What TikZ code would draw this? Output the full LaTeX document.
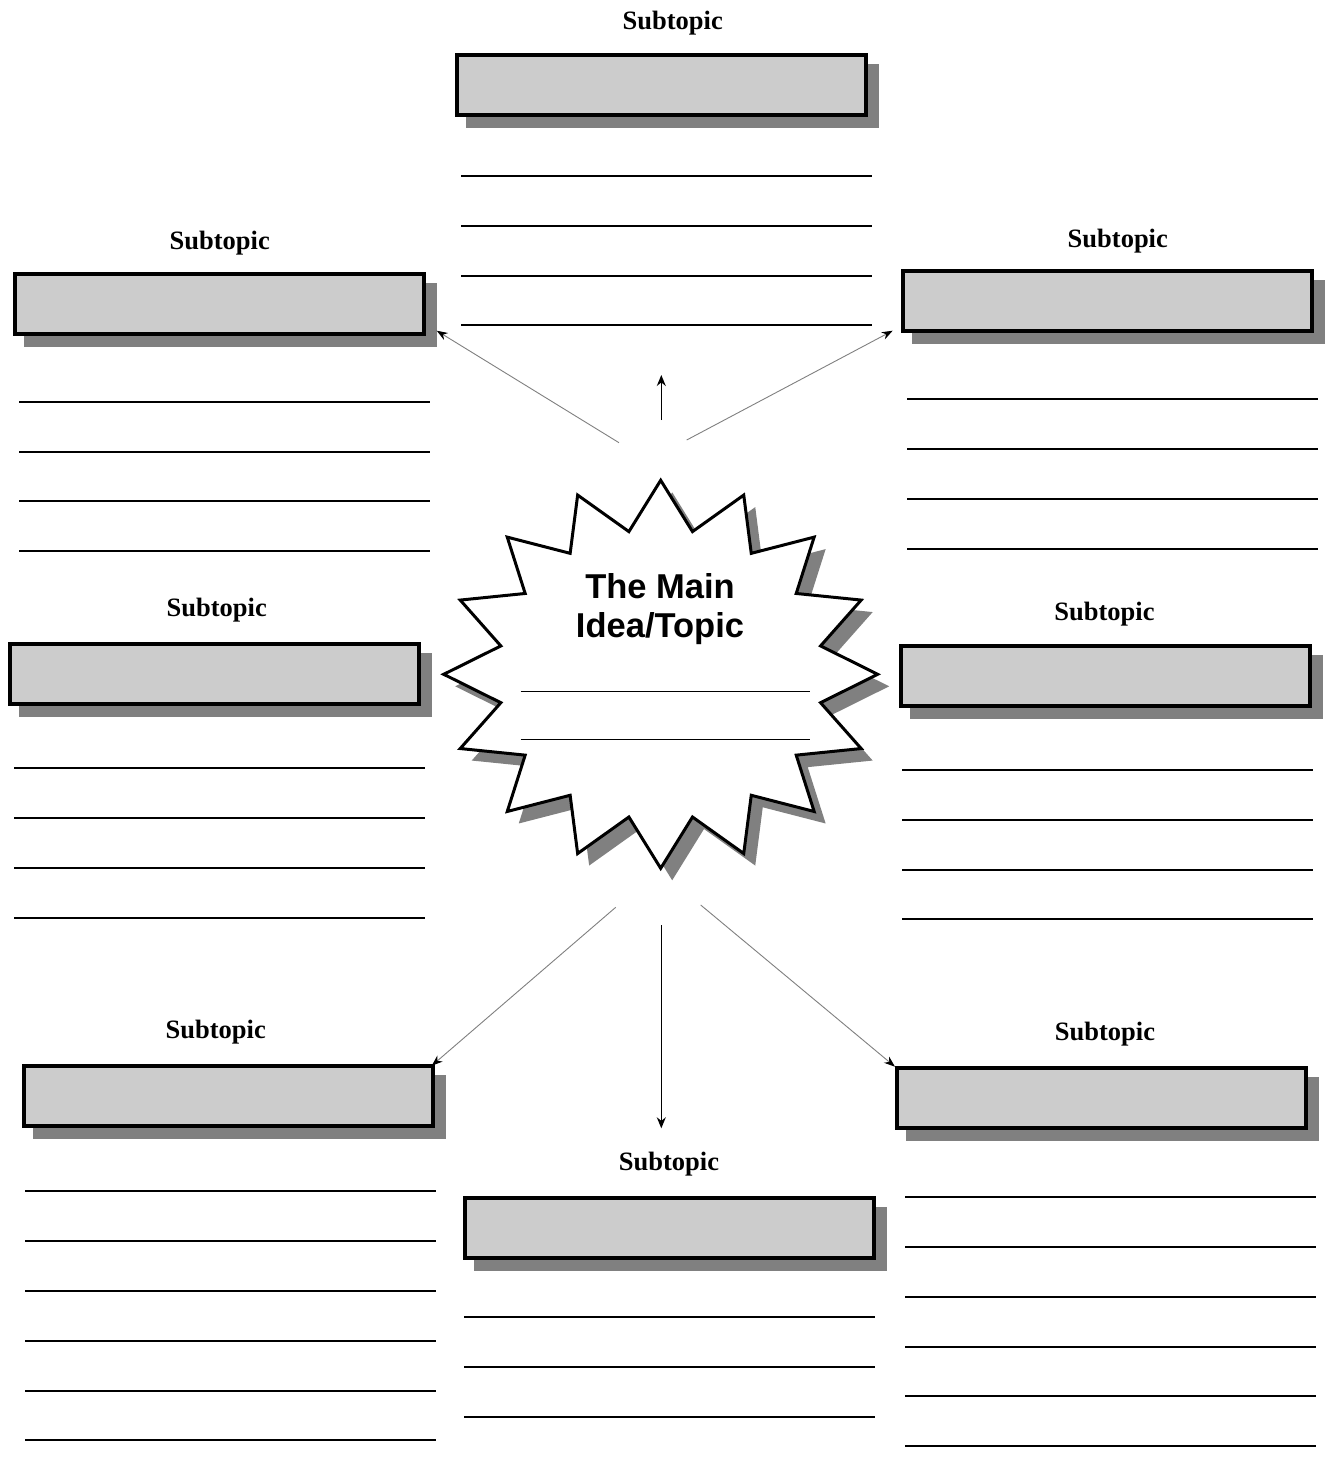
\documentclass[tikz,border=0pt]{standalone}
\usepackage{fontspec}
\setmainfont{Liberation Serif}
\newfontfamily\titlefont{Liberation Sans}
\usetikzlibrary{arrows.meta,backgrounds}
\definecolor{boxfill}{HTML}{CCCCCC}
\definecolor{shadowc}{HTML}{808080}
\tikzset{
  subbox/.style={draw=black, line width=4pt, fill=boxfill, minimum width=409pt, minimum height=60pt, inner sep=0pt},
  sublabel/.style={anchor=base, inner sep=0pt, font=\fontsize{26.5}{31}\selectfont\bfseries},
  titletext/.style={anchor=base, inner sep=0pt, font=\titlefont\fontsize{34.5}{40}\selectfont\bfseries},
  wline/.style={line width=2pt, black},
  thinline/.style={line width=0.9pt, black},
  diagarrow/.style={draw=shadowc, line width=0.9pt, -{Stealth[length=11pt,width=8pt,black]}},
  vertarrow/.style={draw=black, line width=1.3pt, -{Stealth[length=11pt,width=9pt,black]}},
  boxshadow/.style={fill=shadowc}
}
\newcommand{\shadowfor}[1]{%
  \begin{scope}[on background layer]
    \fill[boxshadow] ([shift={(11,11)}]#1.north west) rectangle ([shift={(11,11)}]#1.south east);
  \end{scope}}
\begin{document}
\begin{tikzpicture}[x=1pt,y=-1pt]
\begin{scope}[on background layer]
\fill[white] (0,0) rectangle (1327,1465);
\end{scope}
\useasboundingbox (0,0) rectangle (1327,1465);

% ---- boxes ----
\node[subbox] (b1) at (661.3,85) {};
\node[subbox] (b2) at (219.7,303.5) {};
\node[subbox] (b3) at (1107.3,301.3) {};
\node[subbox] (b4) at (214.2,673.7) {};
\node[subbox] (b5) at (1105.2,675.5) {};
\node[subbox] (b6) at (228.5,1096.2) {};
\node[subbox] (b7) at (1101.8,1098.3) {};
\node[subbox] (b8) at (669.3,1227.8) {};
\foreach \b in {b1,b2,b3,b4,b5,b6,b7,b8} {\shadowfor{\b}}

% ---- labels ----
\node[sublabel] (l1) at (672.7,29) {Subtopic};
\node[sublabel] (l2) at (219.7,249) {Subtopic};
\node[sublabel] (l3) at (1117.8,247) {Subtopic};
\node[sublabel] (l4) at (216.7,616) {Subtopic};
\node[sublabel] (l5) at (1104.5,620) {Subtopic};
\node[sublabel] (l6) at (215.7,1038) {Subtopic};
\node[sublabel] (l7) at (1105,1040) {Subtopic};
\node[sublabel] (l8) at (669,1170) {Subtopic};

% ---- writing lines ----
\foreach \y in {176,226,276,325} \draw[wline] (461,\y) -- (872,\y);
\foreach \y in {402,452,501,551} \draw[wline] (19,\y) -- (430,\y);
\foreach \y in {399,449,499,549} \draw[wline] (907,\y) -- (1318,\y);
\foreach \y in {768,818,868,918} \draw[wline] (14,\y) -- (425,\y);
\foreach \y in {770,820,870,919} \draw[wline] (902,\y) -- (1313,\y);
\foreach \y in {1191,1241,1291,1341,1391,1440} \draw[wline] (25,\y) -- (436,\y);
\foreach \y in {1317,1367,1417} \draw[wline] (464,\y) -- (875,\y);
\foreach \y in {1197,1247,1297,1347,1396,1446} \draw[wline] (905,\y) -- (1316,\y);

% ---- star ----
\coordinate (c) at (660.7,674.3);
\begin{scope}[shift={(672.2,686.3)}]
\fill[shadowc] (90:217 and 194) \foreach \i in {0,...,15} { -- ({90+22.5*\i+11.25}:163 and 145.5) -- ({90+22.5*(\i+1)}:217 and 194) } -- cycle;
\end{scope}
\begin{scope}[shift={(c)}]
\draw[fill=white, line width=3pt, line join=miter] (90:217 and 194) \foreach \i in {0,...,15} { -- ({90+22.5*\i+11.25}:163 and 145.5) -- ({90+22.5*(\i+1)}:217 and 194) } -- cycle;
\end{scope}
\node[titletext] (t1) at (660,598) {The Main};
\node[titletext] (t2) at (660,637) {Idea/Topic};
\draw[thinline] (520.7,691) -- (810,691);
\draw[thinline] (520.7,739) -- (810,739);

% ---- arrows ----
\coordinate (s1) at (619,442.7);   \coordinate (e1) at (436.7,330.7);
\coordinate (s2) at (661.3,420);   \coordinate (e2) at (661.3,375);
\coordinate (s3) at (686.7,440);   \coordinate (e3) at (892.7,330.7);
\coordinate (s4) at (615.7,907.3); \coordinate (e4) at (431.7,1065.7);
\coordinate (s5) at (661.3,925);   \coordinate (e5) at (661.3,1128.3);
\coordinate (s6) at (700.7,905);   \coordinate (e6) at (895,1066.7);
\draw[diagarrow] (s1) -- (e1);
\draw[vertarrow] (s2) -- (e2);
\draw[diagarrow] (s3) -- (e3);
\draw[diagarrow] (s4) -- (e4);
\draw[vertarrow] (s5) -- (e5);
\draw[diagarrow] (s6) -- (e6);
\end{tikzpicture}
\end{document}
